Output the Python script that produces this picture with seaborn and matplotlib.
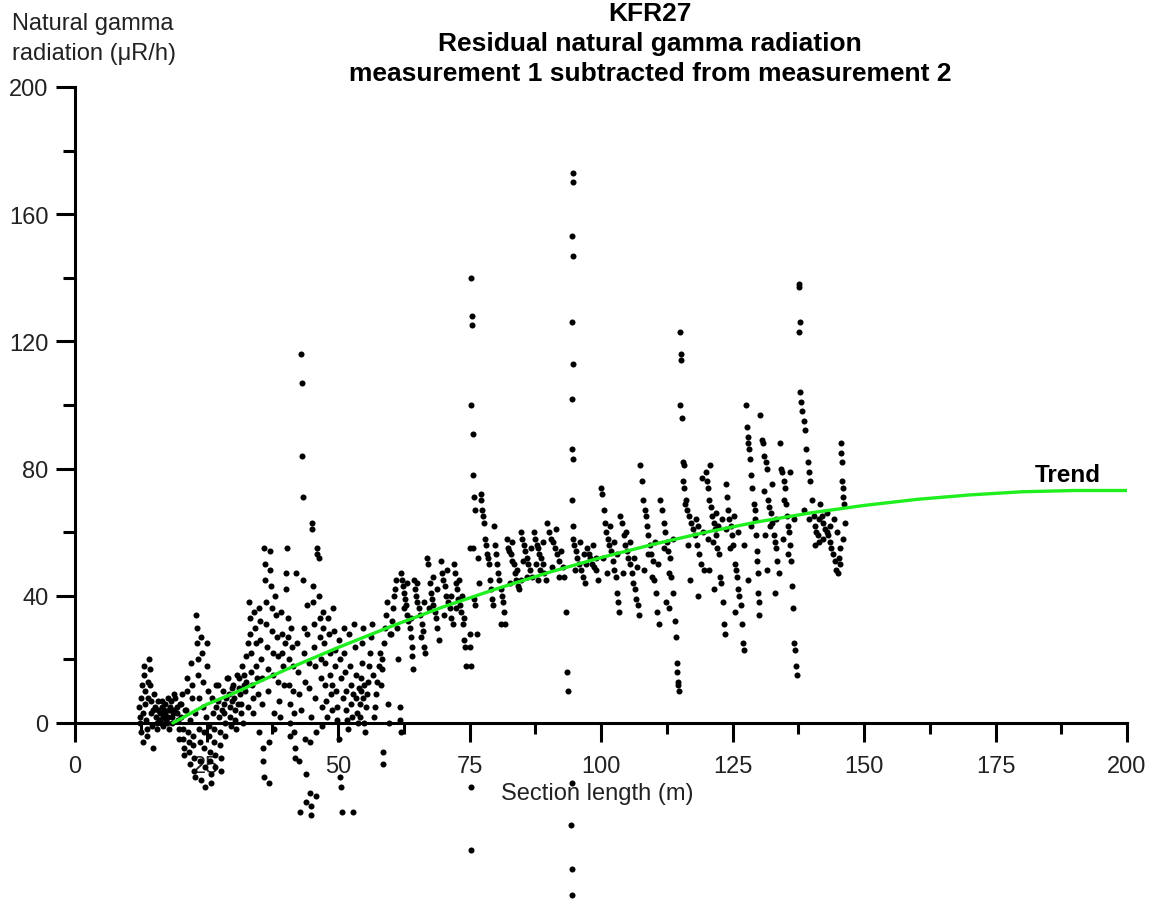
import matplotlib
matplotlib.use("Agg")
import matplotlib.pyplot as plt
from matplotlib.ticker import FixedLocator, MultipleLocator
import numpy as np
import pandas as pd
import seaborn as sns

# residuals, grouped by section length (m), (length, uR/h)
seg_12_20 = [
    (12.1, 5), (12.3, 2), (12.4, 0), (12.5, -3), (12.6, 8), (12.8, 12), (12.9, -6), (13.0, 3),
    (13.1, 18), (13.2, 15), (13.3, 10), (13.4, 6), (13.5, 1), (13.6, -2), (13.7, -4), (13.8, 13), (13.9, 8),
    (14.0, 20), (14.2, 17), (14.3, 12), (14.4, 7), (14.5, 3), (14.6, -1), (14.8, -8), (14.9, 4),
    (15.1, 9), (15.2, 5), (15.4, 2), (15.5, 0), (15.6, -2), (15.7, 4), (15.8, 7), (15.9, 1),
    (16.1, 3), (16.2, 1), (16.3, 0), (16.5, 5), (16.6, 7), (16.7, -1), (16.8, 2), (16.9, 4),
    (17.1, 6), (17.2, 3), (17.3, 1), (17.5, 0), (17.6, 2), (17.7, 8), (17.8, 4), (17.9, -2),
    (18.1, 5), (18.3, 7), (18.4, 2), (18.5, 0), (18.7, 3), (18.8, 9), (18.9, 4),
    (19.1, 8), (19.3, 5), (19.4, 3), (19.6, 1), (19.7, -2), (19.8, -5), (19.9, 6),
]
seg_20_30 = [
    (20.1, 2), (20.2, 6), (20.4, 9), (20.5, -2), (20.6, -5), (20.7, -8), (20.8, -10), (20.9, 4),
    (21.1, 4), (21.2, 10), (21.3, 14), (21.5, -3), (21.6, -6), (21.7, -9), (21.8, -13), (21.9, 1),
    (22.0, 19), (22.2, 12), (22.3, 8), (22.4, -4), (22.5, -7), (22.6, -11), (22.7, -15), (22.8, -17), (22.9, 3),
    (23.0, 34), (23.1, 30), (23.2, 25), (23.3, 20), (23.4, 15), (23.5, 8), (23.6, -2), (23.7, -6), (23.8, -12), (23.9, -18),
    (24.0, 27), (24.2, 22), (24.3, 13), (24.4, 5), (24.5, -3), (24.6, -8), (24.7, -14), (24.8, -20), (24.9, 2),
    (25.0, 25), (25.1, 18), (25.2, 10), (25.4, -1), (25.5, -4), (25.6, -9), (25.7, -12), (25.8, -16), (25.9, -19),
    (26.1, 8), (26.2, 3), (26.4, -2), (26.5, -6), (26.6, -10), (26.7, -14), (26.8, 5), (26.9, 12),
    (27.1, 12), (27.2, 7), (27.3, 2), (27.5, -3), (27.6, -7), (27.7, -11), (27.8, -15), (27.9, 4),
    (28.1, 10), (28.3, 6), (28.4, 3), (28.5, 0), (28.6, -4), (28.8, 8), (28.9, 14),
    (29.1, 14), (29.2, 9), (29.4, 5), (29.5, 2), (29.6, -1), (29.8, 11), (29.9, 7),
]
seg_30_40 = [
    (30.1, 12), (30.3, 8), (30.4, 4), (30.5, 1), (30.7, -2), (30.8, 15), (30.9, 6),
    (31.1, 14), (31.2, 11), (31.4, 9), (31.5, 6), (31.6, 3), (31.8, 18), (31.9, 0),
    (32.1, 15), (32.2, 12), (32.4, 10), (32.5, 13), (32.6, 21), (32.8, 25), (32.9, 5),
    (33.0, 38), (33.2, 33), (33.3, 28), (33.4, 22), (33.5, 16), (33.6, 12), (33.8, 8), (33.9, 3),
    (34.1, 35), (34.2, 30), (34.4, 25), (34.5, 18), (34.6, 14), (34.8, 9), (34.9, -3),
    (35.0, 36), (35.1, 32), (35.2, 26), (35.4, 20), (35.5, 14), (35.6, 6), (35.7, -8), (35.8, -12), (35.9, -17),
    (36.0, 55), (36.1, 50), (36.2, 45), (36.3, 38), (36.4, 31), (36.5, 24), (36.6, 17), (36.7, 10), (36.8, -6), (36.9, -19),
    (37.0, 54), (37.1, 48), (37.2, 43), (37.4, 36), (37.5, 29), (37.6, 22), (37.7, 15), (37.8, 3), (37.9, -2),
    (38.1, 40), (38.2, 34), (38.4, 27), (38.5, 21), (38.6, 13), (38.8, 7), (38.9, 2),
    (39.1, 35), (39.3, 28), (39.4, 22), (39.6, 18), (39.7, 12), (39.9, 25),
]
seg_40_50 = [
    (40.1, 42), (40.3, 55), (40.2, 47), (40.4, 33), (40.5, 27), (40.6, 20), (40.7, 12), (40.8, 6), (40.9, 0), (40.95, -4),
    (41.1, 30), (41.2, 24), (41.4, 18), (41.5, 10), (41.6, 3), (41.7, -3), (41.8, -8), (41.9, -11),
    (42.1, 47), (42.3, 25), (42.4, 16), (42.5, 9), (42.6, -12), (42.7, -28), (42.9, 4),
    (43.0, 116), (43.1, 107), (43.2, 84), (43.3, 71), (43.4, 45), (43.5, 30), (43.6, 22), (43.7, 13), (43.8, -5), (43.9, -16), (43.95, -25),
    (44.1, 37), (44.2, 28), (44.4, 19), (44.5, 11), (44.6, -6), (44.7, -22), (44.8, -26), (44.9, -29), (44.95, 2),
    (45.0, 63), (45.1, 61), (45.2, 43), (45.3, 38), (45.4, 31), (45.5, 24), (45.6, 18), (45.7, 8), (45.8, -3), (45.9, -23),
    (46.0, 55), (46.1, 53), (46.3, 52), (46.4, 40), (46.5, 33), (46.6, 27), (46.7, 20), (46.8, 14), (46.9, 5), (46.95, -1),
    (47.1, 35), (47.2, 30), (47.4, 25), (47.5, 19), (47.6, 12), (47.8, 7), (47.9, 2),
    (48.1, 33), (48.2, 28), (48.4, 22), (48.5, 15), (48.6, 9), (48.8, 4), (48.9, 12),
    (49.1, 36), (49.2, 29), (49.4, 23), (49.5, 18), (49.6, 10), (49.8, 5), (49.9, 1),
]
seg_50_62 = [
    (50.1, -5), (50.2, 26), (50.3, -17), (50.4, 20), (50.5, -20), (50.6, 14), (50.8, -28), (50.9, 8),
    (51.1, 30), (51.2, 22), (51.4, 16), (51.5, 10), (51.6, 4), (51.8, 1), (51.9, -2),
    (52.1, 28), (52.2, 18), (52.4, 12), (52.5, 6), (52.6, 2), (52.8, -28), (52.9, 9),
    (53.1, 31), (53.2, 24), (53.4, 15), (53.5, 8), (53.6, 3), (53.8, 0), (53.9, 11),
    (54.1, 2), (54.2, 6), (54.3, 10), (54.4, 14), (54.5, 19), (54.6, 25), (54.7, 30), (54.8, 8), (54.9, 12), (54.95, 0),
    (55.1, -3), (55.3, 5), (55.5, 9), (55.7, 13), (55.9, 18),
    (56.1, 22), (56.3, 27), (56.5, 31), (56.7, 15), (56.9, 2),
    (57.1, 5), (57.3, 9), (57.5, 13), (57.7, 18), (57.9, 22),
    (58.1, 12), (58.3, 17), (58.4, 20), (58.5, -9), (58.6, -13), (58.7, 25), (58.9, 30),
    (59.1, 34), (59.3, 38), (59.5, 6), (59.7, 0), (59.9, 28),
    (60.1, 28), (60.3, 32), (60.5, 36), (60.7, 40), (60.9, 42),
    (61.1, 45), (61.3, 30), (61.5, 20), (61.7, 5), (61.8, 1), (61.9, -3),
]
seg_62_75 = [
    (62.0, 47), (62.2, 45), (62.4, 43), (62.6, 41), (62.8, 39), (63.0, 37), (63.2, 34), (63.4, 32), (63.6, 30),
    (63.8, 27), (64.0, 24), (64.1, 21), (64.2, 17),
    (64.4, 45), (64.6, 42), (64.9, 40), (65.1, 38), (65.4, 36), (65.6, 34), (65.9, 31), (66.1, 29), (66.4, 24), (66.6, 22),
    (66.9, 52), (67.1, 50), (67.4, 44), (67.6, 41), (67.9, 39), (68.1, 37), (68.4, 35), (68.6, 33), (68.9, 30), (69.2, 26),
    (69.5, 51), (69.8, 47), (70.0, 45), (70.3, 43), (70.6, 40), (70.9, 38), (71.2, 36), (71.5, 33), (71.8, 31),
    (72.0, 50), (72.2, 47), (72.5, 44), (72.7, 42), (72.9, 39), (73.2, 37), (73.4, 35), (73.7, 31), (73.9, 26), (74.1, 24), (74.3, 18),
    (62.5, 36), (63.1, 44), (63.9, 33), (65.0, 44), (65.8, 27), (66.3, 38), (67.3, 36), (68.0, 46),
    (68.8, 42), (70.1, 34), (70.8, 48), (71.4, 40), (72.4, 36), (73.0, 45), (73.6, 40), (74.0, 33),
]
seg_75_100 = [
    (75.2, 140), (75.4, 128), (75.5, 125), (75.3, 100), (75.6, 91), (75.7, 78), (75.9, 71), (76.1, 67),
    (75.1, 55), (75.6, 55), (76.6, 52), (76.8, 44), (75.8, 39), (76.0, 37), (75.1, 28), (75.0, 24), (75.2, 18),
    (76.5, 28), (75.2, -20), (75.3, -40),
    (77.1, 72), (77.2, 70), (77.4, 67), (77.5, 65), (77.7, 63), (77.9, 58), (78.1, 56), (78.3, 53), (78.5, 52),
    (78.7, 50), (78.9, 45), (79.1, 42), (79.3, 39), (79.4, 37),
    (79.6, 62), (79.8, 56), (80.0, 53), (80.2, 50), (80.4, 47), (80.6, 45), (80.9, 42), (81.1, 40), (81.4, 38),
    (81.6, 35), (81.8, 31), (80.9, 31),
    (82.2, 58), (82.4, 55), (82.6, 54), (82.9, 53), (83.1, 51), (83.4, 50), (83.7, 47), (83.9, 45), (84.2, 43), (84.4, 42),
    (84.7, 60), (85.0, 58), (85.3, 56), (85.6, 54), (85.9, 52), (86.2, 50), (86.5, 48), (86.9, 46),
    (87.2, 60), (87.5, 58), (87.8, 56), (88.0, 55), (88.3, 53), (88.6, 52), (88.9, 50), (89.2, 47), (89.5, 45),
    (89.8, 63), (90.1, 60), (90.4, 58), (90.8, 57), (91.2, 55), (91.6, 53), (92.0, 51),
    (83.0, 57), (84.0, 48), (85.2, 51), (86.0, 46), (86.7, 55), (87.6, 50), (88.4, 48), (89.0, 57), (90.6, 49),
    (91.4, 61), (92.1, 46), (82.7, 44), (84.8, 45), (88.1, 45),
    (92.4, 54), (92.7, 49), (93.0, 46), (93.3, 35), (93.5, 16), (93.8, 10),
    (94.6, 173), (94.7, 170), (94.5, 153), (94.7, 147), (94.5, 126), (94.7, 113), (94.5, 102), (94.5, 86),
    (94.7, 83), (94.5, 70), (94.7, 62), (94.6, 58), (94.4, -19), (94.3, -32), (94.4, -46), (94.5, -54),
    (94.9, 56), (95.2, 54), (95.5, 52), (95.8, 50), (96.2, 48), (96.6, 46), (97.0, 44),
    (97.4, 55), (97.7, 53), (98.0, 52), (98.3, 50), (98.7, 49), (99.1, 48), (99.5, 45),
    (95.0, 48), (96.0, 57), (97.2, 50), (98.5, 56), (99.0, 52), (96.8, 53),
]
seg_100_116 = [
    (100.0, 74), (100.2, 72), (100.5, 67), (100.8, 63), (101.0, 60), (101.3, 58), (101.6, 56), (101.9, 54),
    (102.2, 51), (102.5, 48), (102.8, 46), (103.0, 41), (103.2, 38), (103.4, 35),
    (103.7, 65), (104.0, 63), (104.3, 59), (104.6, 56), (104.9, 54), (105.2, 52), (105.5, 50), (105.8, 47),
    (106.1, 44), (106.4, 42), (106.7, 39), (107.0, 37), (107.2, 34),
    (107.5, 81), (107.8, 76), (108.0, 70), (108.3, 67), (108.5, 65), (108.8, 62), (109.0, 59), (109.3, 56),
    (109.5, 53), (109.8, 51), (110.1, 45), (110.4, 41), (110.7, 35), (111.0, 31),
    (111.3, 70), (111.6, 67), (111.9, 63), (112.2, 60), (112.5, 57), (112.8, 54), (113.1, 52), (113.4, 46),
    (113.7, 41), (114.0, 32), (114.2, 27), (114.4, 19), (114.5, 16), (114.6, 13), (114.7, 12), (114.8, 10),
    (115.0, 123), (115.2, 116), (115.3, 114), (115.1, 100), (115.4, 96), (115.5, 82), (115.7, 81),
    (115.6, 76), (115.8, 74), (115.9, 69),
    (100.4, 52), (101.1, 47), (101.8, 62), (102.4, 57), (103.1, 53), (104.1, 47), (104.8, 60), (105.6, 57),
    (106.3, 52), (106.9, 49), (108.2, 48), (108.9, 53), (109.7, 46), (110.3, 57), (110.9, 50), (112.0, 55),
    (112.9, 47), (113.6, 58), (112.4, 38), (113.0, 36),
]
seg_116_147 = [
    (116.1, 70), (116.4, 67), (116.8, 65), (117.1, 63), (117.5, 61), (117.9, 59), (118.3, 56), (118.7, 53),
    (119.1, 50), (119.5, 48),
    (119.9, 79), (120.1, 76), (120.4, 74), (120.6, 70), (120.9, 68), (121.1, 65), (121.4, 63), (121.6, 61),
    (121.9, 59), (122.1, 55), (122.4, 53), (122.6, 46), (122.9, 44), (123.1, 38), (123.3, 31), (123.5, 28),
    (123.7, 75), (123.9, 71), (124.2, 67), (124.4, 64), (124.7, 62), (124.9, 59), (125.1, 56), (125.4, 50),
    (125.6, 48), (125.9, 46), (126.1, 42), (126.3, 40), (126.6, 37), (126.8, 31), (127.0, 25), (127.2, 23),
    (127.5, 100), (127.7, 93), (127.9, 90), (128.0, 88), (128.2, 86), (128.4, 83), (128.6, 78), (128.8, 74),
    (129.0, 69), (129.2, 67), (129.3, 64), (129.5, 59), (129.6, 54), (129.7, 51), (129.8, 47), (129.9, 41),
    (130.0, 38), (130.1, 34),
    (130.3, 97), (130.6, 89), (130.8, 88), (131.0, 84), (131.3, 82), (131.5, 80), (131.8, 70), (132.0, 68),
    (132.3, 66), (132.5, 63), (132.8, 59), (133.0, 57), (133.3, 55), (133.5, 51), (133.8, 47),
    (134.1, 88), (134.3, 80), (134.5, 79), (134.7, 76), (134.9, 74), (135.1, 69), (135.3, 65), (135.5, 62),
    (135.7, 60), (135.9, 56), (136.1, 51), (136.3, 43), (136.5, 36), (136.7, 25), (136.9, 23), (137.1, 18), (137.3, 15),
    (137.6, 138), (137.7, 137), (137.8, 126), (137.6, 123), (137.9, 104),
    (138.0, 101), (138.3, 98), (138.5, 95), (138.8, 92), (139.0, 86), (139.3, 82), (139.5, 79), (139.8, 76),
    (140.1, 70), (140.4, 65), (140.7, 62), (140.9, 60), (141.2, 59), (141.4, 57),
    (141.7, 69), (142.0, 65), (142.3, 63), (142.6, 61), (142.9, 60), (143.2, 59), (143.5, 57), (143.8, 55),
    (144.1, 53), (144.4, 51), (144.7, 48), (145.0, 47),
    (145.6, 88), (145.7, 85), (145.8, 82), (145.9, 76), (146.0, 74), (146.1, 71), (146.2, 69), (146.3, 63),
    (145.3, 52), (145.5, 50), (145.4, 55), (146.0, 58),
    (118.0, 64), (118.5, 62), (119.3, 60), (120.3, 58), (121.2, 57), (121.8, 66), (122.3, 62), (123.0, 64),
    (123.8, 61), (124.6, 55), (125.2, 65), (126.0, 60), (127.1, 56), (128.5, 62), (131.2, 59), (132.1, 62),
    (133.2, 64), (134.6, 58), (135.6, 53), (136.6, 64), (138.6, 67), (139.6, 64), (140.6, 56), (141.5, 64),
    (142.2, 58), (143.0, 66), (143.6, 62), (144.3, 64), (144.9, 60), (117.0, 45), (118.5, 40), (120.5, 48),
    (121.5, 42), (125.5, 35), (128.0, 45), (131.5, 48), (133.0, 41), (116.5, 56), (132.6, 75), (134.8, 70),
    (136.0, 79), (130.9, 73), (120.8, 81), (119.2, 77),
]

# green trend curve, read at every 10 m
trend_x = [18.6, 20, 25, 30, 40, 50, 60, 70, 80, 90, 100, 110, 120, 130, 140, 150, 160, 170, 180, 190, 200]
trend_y = [0.0, 1.2, 5.8, 9.2, 16.7, 23.7, 30.3, 36.5, 42.1, 47.3, 52.0, 56.2, 60.0, 63.3, 66.1, 68.4,
           70.3, 71.7, 72.7, 73.1, 73.1]

y_major = [0, 40, 80, 120, 160, 200]
y_minor = [20, 60, 100, 140, 180]

points = pd.DataFrame(
    seg_12_20 + seg_20_30 + seg_30_40 + seg_40_50 + seg_50_62
    + seg_62_75 + seg_75_100 + seg_100_116 + seg_116_147,
    columns=["length", "residual"],
)
trend = pd.DataFrame({"length": trend_x, "residual": trend_y})

sns.set_style("white")
plt.rcParams["font.family"] = ["Liberation Sans", "DejaVu Sans"]

W, H = 1151, 904
fig = plt.figure(figsize=(W / 100, H / 100), dpi=100)
ax = fig.add_axes([75 / W, (H - 902) / H, (1127 - 75) / W, (902 - 88) / H])

sns.scatterplot(data=points, x="length", y="residual", ax=ax, color="black",
                s=19, linewidth=0, zorder=3, legend=False)
sns.lineplot(data=trend, x="length", y="residual", ax=ax, color="#1fee1f",
             linewidth=2.4, zorder=4, sort=False, errorbar=None)

ax.set_xlim(0, 200)
ax.set_ylim(-56, 200)
ax.set_xlabel("")
ax.set_ylabel("")

for side in ("top", "right"):
    ax.spines[side].set_visible(False)
ax.spines["left"].set_bounds(0, 200)
ax.spines["bottom"].set_position(("data", 0))
ax.spines["bottom"].set_bounds(0, 200)
for side in ("left", "bottom"):
    ax.spines[side].set_linewidth(2.2)
    ax.spines[side].set_color("black")

ax.xaxis.set_major_locator(MultipleLocator(25))
ax.xaxis.set_minor_locator(MultipleLocator(12.5))
ax.yaxis.set_major_locator(FixedLocator(y_major))
ax.yaxis.set_minor_locator(FixedLocator(y_minor))
ax.tick_params(axis="both", which="both", direction="out", width=2.2, color="black",
               bottom=True, left=True, labelsize=17, labelcolor="#222222")
ax.tick_params(axis="x", which="major", length=14, pad=9)
ax.tick_params(axis="x", which="minor", length=8)
ax.tick_params(axis="y", which="major", length=14, pad=5)
ax.tick_params(axis="y", which="minor", length=9)
ax.grid(False)

ax.text(188.8, 78, "Trend", ha="center", va="center", fontsize=17.5, fontweight="bold",
        color="black")

fig.text(650 / W, 1 - 44 / H,
         "KFR27\nResidual natural gamma radiation\nmeasurement 1 subtracted from measurement 2",
         ha="center", va="center", fontsize=19, fontweight="bold", color="black", linespacing=1.3)
fig.text(12 / W, 1 - 39 / H, "Natural gamma\nradiation (\u03bcR/h)",
         ha="left", va="center", fontsize=17, color="#222222", linespacing=1.45)
fig.text(597 / W, 1 - 794 / H, "Section length (m)", ha="center", va="center",
         fontsize=17, color="#222222")

fig.savefig("out.png", dpi=100, facecolor="white")
